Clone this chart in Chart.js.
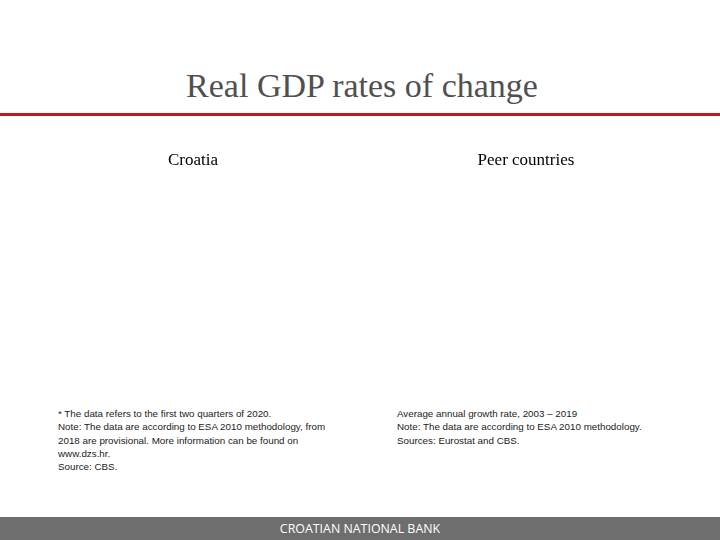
<!DOCTYPE html>
<html lang="en">
<head>
<meta charset="UTF-8">
<title>Real GDP rates of change</title>
<script src="https://cdn.jsdelivr.net/npm/chart.js"></script>
<style>
    body { margin: 0; width: 720px; height: 540px; background: #fff; position: relative; overflow: hidden; }
    .titulo { position: absolute; top: 67px; left: 0; width: 724px; text-align: center;
        font-family: "Liberation Serif", serif; font-size: 34px; color: #505050; }
    .linha { position: absolute; top: 113px; left: 0; width: 720px; height: 3px; background: #c4161c; }
    .grafico { position: absolute; top: 148px; width: 306px; height: 250px; }
    .nota { position: absolute; font-family: "Liberation Sans", sans-serif; font-size: 9.8px;
        line-height: 13.3px; color: #222; }
    .rodape { position: absolute; top: 517px; left: 0; width: 720px; height: 23px; background: #6e6e6e;
        color: #fff; text-align: center; font-family: "Open Sans", sans-serif; font-size: 12.4px; line-height: 23px; }
</style>
</head>
<body>
    <div class="titulo">Real GDP rates of change</div>
    <div class="linha"></div>

    <div class="grafico" style="left:40px"><canvas id="chartCroatia"></canvas></div>
    <div class="grafico" style="left:373px"><canvas id="chartPeers"></canvas></div>

    <div class="nota" style="left:58px; top:407px">
        * The data refers to the first two quarters of 2020.<br>
        Note: The data are according to ESA 2010 methodology, from<br>
        2018 are provisional. More information can be found on<br>
        www.dzs.hr.<br>
        Source: CBS.
    </div>
    <div class="nota" style="left:397px; top:407px">
        Average annual growth rate, 2003 – 2019<br>
        Note: The data are according to ESA 2010 methodology.<br>
        Sources: Eurostat and CBS.
    </div>

    <div class="rodape">CROATIAN NATIONAL BANK</div>

<script>
    // nothing is plotted in the picture, so the series are empty
    var anosCroatia = []
    var valoresCroatia = []
    var paises = []
    var valoresPaises = []

    function montarConfig(titulo, labels, valores) {
        return {
            type: 'bar',
            data: {
                labels: labels,
                datasets: [{ data: valores, backgroundColor: '#c4161c' }]
            },
            options: {
                responsive: true,
                maintainAspectRatio: false,
                animation: false,
                scales: { x: { display: false }, y: { display: false } },
                plugins: {
                    legend: { display: false },
                    tooltip: { enabled: false },
                    title: {
                        display: true,
                        text: titulo,
                        color: '#000',
                        padding: { top: 2, bottom: 4 },
                        font: { family: 'Liberation Serif', size: 17, weight: 'normal' }
                    }
                }
            }
        }
    }

    new Chart(document.getElementById('chartCroatia'), montarConfig('Croatia', anosCroatia, valoresCroatia))
    new Chart(document.getElementById('chartPeers'), montarConfig('Peer countries', paises, valoresPaises))
</script>
</body>
</html>
